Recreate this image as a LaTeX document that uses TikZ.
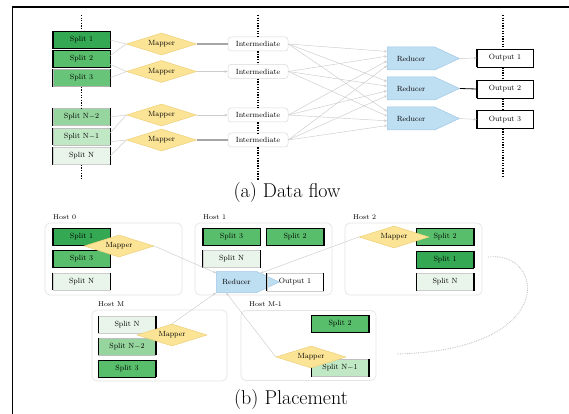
\documentclass[tikz,border=0pt]{standalone}
\usetikzlibrary{shapes.geometric,shapes.symbols,arrows.meta,calc}
\definecolor{ga}{RGB}{52,168,83}
\definecolor{gb}{RGB}{88,190,108}
\definecolor{gc}{RGB}{104,196,120}
\definecolor{gd}{RGB}{150,214,158}
\definecolor{ge}{RGB}{192,232,197}
\definecolor{gf}{RGB}{233,245,234}
\definecolor{mapfill}{RGB}{252,228,150}
\definecolor{mapdraw}{RGB}{238,208,120}
\definecolor{redfill}{RGB}{190,222,242}
\definecolor{reddraw}{RGB}{160,200,230}
\begin{document}
\begin{tikzpicture}[x=1pt,y=-1pt,
  txt/.style={font=\fontsize{7.5}{8}\selectfont},
  bars/.style={append after command={(\tikzlastnode.north west) edge[line width=1.4pt,black] (\tikzlastnode.south west) (\tikzlastnode.north east) edge[line width=1.4pt,black] (\tikzlastnode.south east)}},
  splitbox/.style={txt,rectangle,draw=black,line width=0.6pt,minimum width=57pt,minimum height=17pt,inner sep=1pt,bars},
  mapper/.style={txt,diamond,aspect=3.2,fill=mapfill,draw=mapdraw,line width=0.5pt,minimum width=70pt,minimum height=22pt,inner sep=0.5pt},
  inter/.style={txt,rectangle,rounded corners=3pt,draw=gray!30,line width=0.5pt,minimum width=60pt,minimum height=14pt,inner sep=1pt},
  reducer/.style={txt,signal,signal to=east,signal pointer angle=50,fill=redfill,draw=reddraw,line width=0.5pt,minimum width=72pt,minimum height=23pt,inner sep=1pt},
  outbox/.style={txt,rectangle,draw=black,line width=0.5pt,minimum width=56pt,minimum height=18pt,inner sep=1pt,bars},
  host/.style={rectangle,rounded corners=5pt,draw=gray!20,line width=0.7pt},
  hostlbl/.style={font=\fontsize{7}{8}\selectfont,anchor=west,inner sep=0pt},
  vdots/.style={draw=black,line width=1.3pt,dash pattern=on 1.3pt off 1.3pt},
  faint/.style={draw=gray!40,line width=0.45pt,-{Stealth[length=3pt,width=2.5pt]}},
  faintline/.style={draw=gray!40,line width=0.45pt},
  strong/.style={draw=gray!70,line width=1.2pt},
  caption/.style={font=\fontsize{20}{22}\selectfont}
]
\useasboundingbox (0,0) rectangle (569,414);
\fill[white] (0,0) rectangle (569,414);
\draw[line width=1.6pt] (12.5,414) -- (12.5,7) -- (569,7);

% ---------------- (a) Data flow ----------------
\node[splitbox,fill=ga] (s1) at (81.5,40) {Split 1};
\node[splitbox,fill=gb] (s2) at (81.5,59) {Split 2};
\node[splitbox,fill=gc,draw=gray!60] (s3) at (81.5,78) {Split 3};
\node[splitbox,fill=gd,draw=gray!50] (sn2) at (81.5,117) {Split N$-$2};
\node[splitbox,fill=ge,draw=gray!50] (sn1) at (81.5,136.5) {Split N$-$1};
\node[splitbox,fill=gf,draw=gray!40] (sn) at (81.5,156) {Split N};
\coordinate (st) at (81.5,15);
\coordinate (sb) at (81.5,180);
\draw[vdots] (st) -- (s1.north);
\draw[vdots] (s3.south) -- (sn2.north);
\draw[vdots] (sn.south) -- (sb);

\node[mapper] (m1) at (161.5,44) {Mapper};
\node[mapper] (m2) at (161.5,71.5) {Mapper};
\node[mapper] (m3) at (161.5,115) {Mapper};
\node[mapper] (m4) at (161.5,140) {Mapper};

\draw[faintline] (s1.east) -- (m1.west);
\draw[faintline] ($(s2.north east)!0.3!(s2.south east)$) -- (m1.west);
\draw[faintline] ($(s2.north east)!0.8!(s2.south east)$) -- (m2.west);
\draw[faintline] (s3.east) -- (m2.west);
\draw[faintline] (sn2.east) -- (m3.west);
\draw[faintline] ($(sn1.north east)!0.3!(sn1.south east)$) -- (m3.west);
\draw[faintline] ($(sn1.north east)!0.8!(sn1.south east)$) -- (m4.west);
\draw[faintline] (sn.east) -- (m4.west);

\node[inter] (i1) at (258,44) {Intermediate};
\node[inter] (i2) at (258,71.5) {Intermediate};
\node[inter] (i3) at (258,115) {Intermediate};
\node[inter] (i4) at (258,140) {Intermediate};
\coordinate (it) at (258,15);
\coordinate (ib) at (258,180);
\draw[vdots] (it) -- (i1.north);
\draw[vdots] (i1.south) -- (i2.north);
\draw[vdots] (i2.south) -- (i3.north);
\draw[vdots] (i3.south) -- (i4.north);
\draw[vdots] (i4.south) -- (ib);

\draw[strong] (m1.east) -- (i1.west);
\draw[faint] (m2.east) -- (i2.west);
\draw[faint] (m3.east) -- (i3.west);
\draw[strong] (m4.east) -- (i4.west);

\node[reducer] (r1) at (411,58.5) {Reducer};
\node[reducer] (r2) at (411,88.5) {Reducer};
\node[reducer] (r3) at (411,118.5) {Reducer};

\foreach \i/\f in {1/0.2,2/0.4,3/0.6,4/0.8}
  \foreach \j in {1,2,3}
    \draw[faint] (i\i.east) -- ($(r\j.north west)!\f!(r\j.south west)$);

\node[outbox] (o1) at (505,58) {Output 1};
\node[outbox] (o2) at (505,89) {Output 2};
\node[outbox] (o3) at (505,119.5) {Output 3};
\coordinate (ot) at (503,15);
\coordinate (ob) at (503,178);
\draw[vdots] (ot) -- (ot |- o1.north);
\draw[vdots] (ot |- o1.south) -- (ot |- o2.north);
\draw[vdots] (ot |- o2.south) -- (ot |- o3.north);
\draw[vdots] (ot |- o3.south) -- (ob);

\draw[faint] (r1.east) -- (o1.west);
\draw[black,line width=0.8pt] (r2.east) -- (o2.west);
\draw[faint] (r3.east) -- (o3.west);

\node[caption] (capa) at (287,193) {(a) Data flow};

% ---------------- (b) Placement ----------------
\node[host,minimum width=137pt,minimum height=72pt] (h0) at (113.5,259) {};
\node[host,minimum width=137pt,minimum height=72pt] (h1) at (263.5,259) {};
\node[host,minimum width=137pt,minimum height=72pt] (h2) at (413.5,259) {};
\node[host,minimum width=135pt,minimum height=71pt] (hm) at (159.5,345.5) {};
\node[host,minimum width=135pt,minimum height=70pt] (hm1) at (308.5,345.5) {};
\node[hostlbl] (lh0) at (53,217) {Host 0};
\node[hostlbl] (lh1) at (203,217) {Host 1};
\node[hostlbl] (lh2) at (353,217) {Host 2};
\node[hostlbl] (lhm) at (98,304) {Host M};
\node[hostlbl] (lhm1) at (249,304) {Host M-1};

% Host 0
\node[splitbox,fill=ga] (a1) at (81.5,237) {Split 1};
\node[splitbox,fill=gb] (a3) at (81.5,259) {Split 3};
\node[splitbox,fill=gf,draw=gray!40] (an) at (81.5,281.5) {Split N};
\node[mapper] (am) at (119,246) {Mapper};

% Host 1
\node[splitbox,fill=gb] (b3) at (231.5,237) {Split 3};
\node[splitbox,fill=gb] (b2) at (295,237) {Split 2};
\node[splitbox,fill=gf,draw=gray!40] (bn) at (231.5,259) {Split N};
\node[reducer,minimum width=63pt,minimum height=21pt] (br) at (236.5,282) {Reducer};
\node[outbox,draw=gray!40] (bo) at (295,282) {Output 1};

% Host 2
\node[splitbox,fill=gb] (c2) at (445,237) {Split 2};
\node[splitbox,fill=ga] (c1) at (445,259.5) {Split 1};
\node[splitbox,fill=gf,draw=gray!40] (cn) at (445,282) {Split N};
\node[mapper] (cm) at (394,237) {Mapper};

% Host M
\node[splitbox,fill=gf,draw=gray!40] (dn) at (127,324.5) {Split N};
\node[splitbox,fill=gd,draw=gray!50] (dn2) at (127,346.5) {Split N$-$2};
\node[splitbox,fill=gb] (d3) at (127,368.5) {Split 3};
\node[mapper] (dm) at (172,335) {Mapper};

% Host M-1
\node[splitbox,fill=gb] (e2) at (340,324) {Split 2};
\node[splitbox,fill=ge,draw=gray!50] (en1) at (340,368) {Split N$-$1};
\node[mapper] (em) at (311,357) {Mapper};

% connectors (b)
\draw[faint] (am.east) -- (br);
\draw[faint] (cm.west) -- (br);
\draw[faint] (dm.north) -- (br.south west);
\draw[faint] (em.west) -- ($(br.south west)!0.25!(br.south east)$);
\coordinate (cv1) at (488,257);
\coordinate (cv2) at (397,354);
\draw[gray!50,line width=0.8pt,densely dotted] (cv1) .. controls (545,250) and (560,350) .. (cv2);

\node[caption] (capb) at (291,400) {(b) Placement};
\end{tikzpicture}
\end{document}
